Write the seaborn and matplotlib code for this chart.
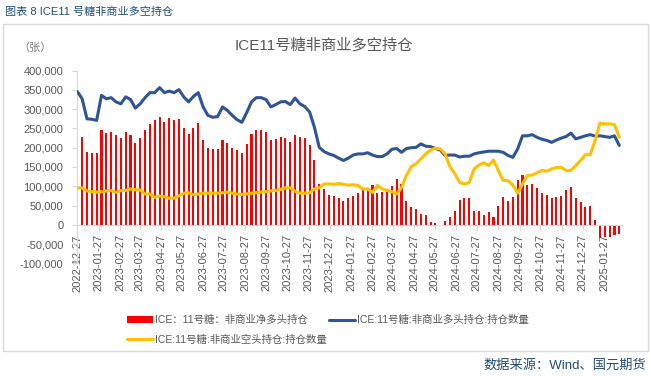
import pandas as pd
import numpy as np
import matplotlib.pyplot as plt
import matplotlib.dates as mdates
from matplotlib.ticker import FuncFormatter
from matplotlib.patches import Rectangle
import seaborn as sns

# 周度数据（千张），2022-12-27 起每周二
start_date = '2022-12-27'
net_long = [247, 229, 190, 187, 187, 247, 237, 240, 234, 224,
            242, 232, 212, 224, 247, 261, 271, 281, 268, 278,
            273, 275, 252, 235, 252, 263, 221, 200, 197, 197,
            220, 213, 200, 193, 186, 209, 236, 245, 245, 240,
            219, 222, 228, 226, 214, 233, 227, 225, 206, 167,
            106, 93, 78, 75, 69, 61, 69, 74, 82, 90,
            89, 104, 82, 86, 86, 100, 118, 106, 62, 45,
            41, 28, 25, 8, 4, -4, 10, 19, 36, 64,
            69, 69, 36, 36, 26, 34, 19, 48, 73, 62,
            73, 116, 130, 103, 106, 95, 83, 78, 69, 72,
            76, 89, 97, 69, 60, 45, 49, 13, -35, -31,
            -33, -27, -23]
long_pos = [346, 327, 275, 274, 271, 336, 327, 330, 319, 314,
            332, 325, 303, 314, 330, 343, 343, 356, 343, 347,
            343, 351, 332, 319, 333, 343, 306, 284, 279, 281,
            306, 297, 284, 273, 266, 291, 319, 330, 330, 325,
            306, 312, 319, 320, 312, 329, 314, 307, 293, 253,
            201, 190, 184, 180, 173, 167, 173, 181, 184, 184,
            187, 181, 177, 177, 184, 196, 198, 188, 198, 200,
            201, 210, 204, 203, 198, 194, 180, 181, 181, 176,
            178, 178, 184, 187, 189, 191, 191, 191, 188, 180,
            175, 197, 231, 231, 234, 227, 222, 219, 214, 220,
            225, 229, 238, 223, 227, 231, 234, 230, 231, 229,
            227, 231, 206]
short_pos = [96, 96, 88, 86, 85, 86, 88, 89, 84, 89,
             89, 93, 91, 90, 80, 80, 71, 75, 73, 69,
             69, 75, 82, 83, 78, 80, 82, 82, 82, 82,
             83, 85, 82, 80, 79, 80, 82, 83, 85, 86,
             88, 89, 92, 96, 96, 87, 82, 82, 83, 93,
             96, 106, 106, 105, 107, 105, 103, 104, 102, 93,
             93, 84, 102, 93, 89, 86, 80, 97, 128, 151,
             158, 171, 184, 194, 199, 197, 184, 151, 133, 110,
             106, 110, 145, 155, 161, 154, 168, 141, 115, 115,
             103, 82, 106, 128, 129, 135, 141, 139, 145, 149,
             149, 141, 141, 154, 167, 182, 182, 219, 264, 262,
             262, 260, 227]

lab_net = 'ICE：11号糖：非商业净多头持仓'
lab_long = 'ICE:11号糖:非商业多头持仓:持仓数量'
lab_short = 'ICE:11号糖:非商业空头持仓:持仓数量'

dates = pd.date_range(start_date, periods=len(net_long), freq='7D')
df = pd.DataFrame({'date': dates,
                   'net': np.array(net_long) * 1000,
                   'long': np.array(long_pos) * 1000,
                   'short': np.array(short_pos) * 1000})

sns.set_style('white')
plt.rcParams['font.family'] = ['Liberation Sans', 'Noto Sans CJK SC', 'DejaVu Sans']

fig = plt.figure(figsize=(6.51, 3.76), dpi=100)
ax = fig.add_axes([76.6 / 651, 1 - 263.3 / 376, (622 - 76.6) / 651, (263.3 - 70.7) / 376])

bars = ax.bar(df['date'], df['net'], width=3.0, color='#FF0000', linewidth=0,
              label=lab_net, zorder=2)
sns.lineplot(data=df, x='date', y='long', ax=ax, color='#2F5597', lw=2.2, label=lab_long, zorder=3)
sns.lineplot(data=df, x='date', y='short', ax=ax, color='#FFC000', lw=2.2, label=lab_short, zorder=4)

ax.set_xlim(dates[0] - pd.Timedelta(days=1), dates[-1] + pd.Timedelta(days=3.9))
ax.set_ylim(-100000, 400000)
ax.set_yticks(np.arange(-100000, 400001, 50000))
ax.yaxis.set_major_formatter(FuncFormatter(lambda v, p: f'{v:,.0f}'))
ax.xaxis.set_major_locator(mdates.MonthLocator(bymonthday=27))
ax.xaxis.set_major_formatter(mdates.DateFormatter('%Y-%m-%d'))
ax.set_xlabel('')
ax.set_ylabel('')

for s in ['top', 'right']:
    ax.spines[s].set_visible(False)
ax.spines['bottom'].set_position(('data', 0))
ax.spines['bottom'].set_color('#d9d9d9')
ax.spines['left'].set_color('#d9d9d9')
ax.tick_params(axis='both', color='#d9d9d9', labelcolor='#595959', labelsize=8,
               length=3.5, width=0.8, left=True, bottom=True)
ax.tick_params(axis='x', pad=3.4, labelrotation=90)
ax.tick_params(axis='y', pad=6)

ax.get_legend().remove()
h_long, h_short = ax.get_lines()[0], ax.get_lines()[1]
fig.legend([bars, h_short, h_long], [lab_net, lab_short, lab_long],
           loc='upper left', bbox_to_anchor=(122 / 651, 1 - 310 / 376), ncol=2,
           frameon=False, fontsize=7.5, handlelength=2.5, handletextpad=0.2,
           columnspacing=0.2, labelspacing=0.9, borderpad=0, labelcolor='#595959')

fig.text(5 / 651, 1 - 12 / 376, '图表 8 ICE11 号糖非商业多空持仓', va='center',
         color='#1f4e79', fontsize=8)
fig.text(323.5 / 651, 1 - 45 / 376, 'ICE11号糖非商业多空持仓', ha='center', va='center',
         fontsize=11, color='#595959')
fig.text(35 / 651, 1 - 48 / 376, '（张）', ha='center', va='center', fontsize=8, color='#7f7f7f')
fig.text(646 / 651, 1 - 365 / 376, '数据来源：Wind、国元期货', ha='right', va='center',
         fontsize=9.5, color='#1f4e79')
fig.add_artist(Rectangle((3 / 651, 1 - 351 / 376), 645 / 651, 327 / 376, transform=fig.transFigure,
                         fill=False, edgecolor='#d9d9d9', lw=1))

plt.savefig('out.png', dpi=100)
